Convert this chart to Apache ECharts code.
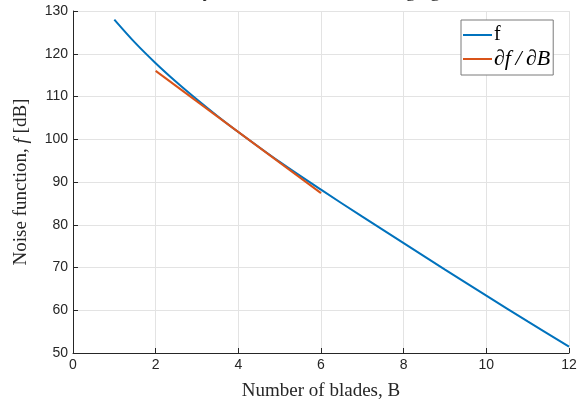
<!DOCTYPE html>
<html>
<head>
<meta charset="utf-8">
<script src="https://cdn.jsdelivr.net/npm/echarts@6/dist/echarts.min.js"></script>
<style>html,body{margin:0;padding:0;background:#fff;}#c{width:588px;height:406px;}</style>
</head>
<body>
<div id="c"></div>
<script>
const bladesF = [1, 1.5, 2, 2.5, 3, 3.5, 4, 5, 6, 7, 8, 9, 10, 11, 12];
const noiseF  = [128, 122.6, 117.8, 113.4, 109.3, 105.4, 101.7, 94.7, 88.2, 81.9, 75.7, 69.5, 63.4, 57.4, 51.5];
const bladesD = [2, 6];
const noiseD  = [116.0, 87.4];
const xTicks = [0, 2, 4, 6, 8, 10, 12];
const yTicks = [50, 60, 70, 80, 90, 100, 110, 120, 130];

const chart = echarts.init(document.getElementById('c'), null, {renderer: 'canvas'});
const serif = 'Liberation Serif';
const sans = 'Liberation Sans';
chart.setOption({
  animation: false,
  title: {
    text: 'Sensitivity of noise function to changing B',
    left: 'center', top: -22,
    textStyle: {fontFamily: serif, fontSize: 19, fontWeight: 'normal', color: '#262626'}
  },
  grid: {left: 73, right: 19, top: 11, bottom: 53, containLabel: false},
  legend: {
    orient: 'vertical', left: 461, top: 20,
    backgroundColor: '#fff', borderColor: '#7a7a7a', borderWidth: 1,
    padding: [5, 3, 5, 2], itemGap: 3,
    itemWidth: 29, itemHeight: 2, icon: 'rect',
    data: ['f', 'dfdB'],
    formatter: function (n) { return n === 'f' ? '{r|f}' : '{i|∂f\u2009/\u2009∂B}'; },
    textStyle: {
      color: '#000', fontFamily: serif, fontSize: 20, padding: [0, 0, 0, -3],
      rich: {
        r: {fontFamily: serif, fontSize: 20, color: '#000'},
        i: {fontFamily: serif, fontSize: 22, fontStyle: 'italic', color: '#000'}
      }
    }
  },
  xAxis: {
    type: 'value', min: xTicks[0], max: xTicks[xTicks.length - 1], interval: 2,
    name: 'Number of blades, B', nameLocation: 'middle', nameGap: 29,
    nameTextStyle: {fontFamily: serif, fontSize: 19, color: '#262626'},
    axisLine: {show: true, onZero: false, lineStyle: {color: '#262626', width: 1}},
    axisTick: {show: true, inside: true, length: 5, lineStyle: {color: '#262626'}},
    axisLabel: {fontFamily: sans, fontSize: 14, color: '#262626', margin: 5},
    splitLine: {show: true, lineStyle: {color: '#e3e3e3', width: 1}}
  },
  yAxis: {
    type: 'value', min: yTicks[0], max: yTicks[yTicks.length - 1], interval: 10,
    name: '{n|Noise function, }{i|f}{n| [dB]}', nameLocation: 'middle', nameGap: 42, nameRotate: 90,
    nameTextStyle: {
      fontFamily: serif, fontSize: 19, color: '#262626',
      rich: {
        n: {fontFamily: serif, fontSize: 19, color: '#262626'},
        i: {fontFamily: serif, fontSize: 19, fontStyle: 'italic', color: '#262626'}
      }
    },
    axisLine: {show: true, lineStyle: {color: '#262626', width: 1}},
    axisTick: {show: true, inside: true, length: 5, lineStyle: {color: '#262626'}},
    axisLabel: {fontFamily: sans, fontSize: 14, color: '#262626', margin: 5},
    splitLine: {show: true, lineStyle: {color: '#e3e3e3', width: 1}}
  },
  series: [
    {
      name: 'f', type: 'line', smooth: 0.3, showSymbol: false,
      data: bladesF.map((b, i) => [b, noiseF[i]]),
      lineStyle: {color: '#0072BD', width: 2}, itemStyle: {color: '#0072BD'}, z: 2
    },
    {
      name: 'dfdB', type: 'line', showSymbol: false,
      data: bladesD.map((b, i) => [b, noiseD[i]]),
      lineStyle: {color: '#D95319', width: 2}, itemStyle: {color: '#D95319'}, z: 3
    }
  ]
});
</script>
</body>
</html>
